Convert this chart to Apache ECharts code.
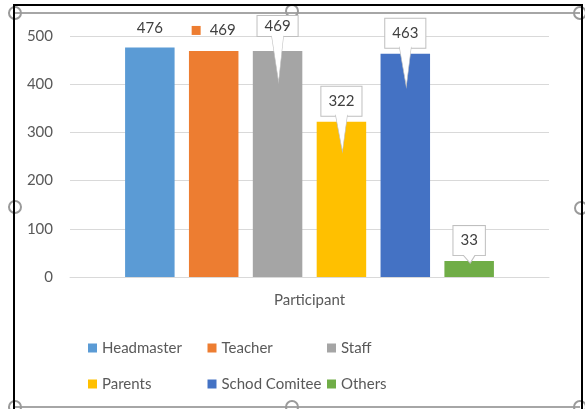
<!DOCTYPE html>
<html>
<head>
<meta charset="utf-8">
<script src="https://cdn.jsdelivr.net/npm/echarts@6/dist/echarts.min.js"></script>
<style>
html,body{margin:0;padding:0;background:#fff;}
#chart{width:585px;height:409px;}
</style>
</head>
<body>
<div id="chart"></div>
<script>
// ---- data ----
const categories = ['Participant'];
const seriesNames = ['Headmaster', 'Teacher', 'Staff', 'Parents', 'Schod Comitee', 'Others'];
const values = [476, 469, 469, 322, 463, 33];
const yTicks = [0, 100, 200, 300, 400, 500];

// ---- styles ----
const palette = ['#5B9BD5', '#ED7D31', '#A5A5A5', '#FFC000', '#4472C4', '#70AD47'];
const FONT = 'Lato';
const textGray = '#595959';
const valGray = '#404040';

// label style per series: 'plain', 'key', 'callout'
const labelKinds = ['plain', 'key', 'callout', 'callout', 'callout', 'callout'];
const labelDist = [12, 13, 15, 6, 6, 6];
const calloutPad = [null, null, [3, 7, 2, 7], [7, 7, 7, 7], [7, 7, 7, 7], [7, 7, 7, 7]];
// pointer wedge geometry: [height, vertical offset of centre rel. to bar top]
const wedgeGeom = [null, null, [46, 8], [37, 11.5], [40, 13], [8, -2]];

function makeLabel(i) {
  const base = {
    show: true, position: 'top', distance: labelDist[i],
    fontFamily: FONT, fontSize: 15, color: valGray, formatter: '{c}'
  };
  if (labelKinds[i] === 'key') {
    base.formatter = '{k|}{v|{c}}';
    base.rich = {
      k: { width: 9, height: 9, backgroundColor: palette[i] },
      v: { fontFamily: FONT, fontSize: 15, color: valGray, padding: [0, 0, 0, 9] }
    };
  } else if (labelKinds[i] === 'callout') {
    base.backgroundColor = '#fff';
    base.borderColor = '#bfbfbf';
    base.borderWidth = 1;
    base.padding = calloutPad[i];
  }
  return base;
}

const series = seriesNames.map((name, i) => {
  const s = {
    name: name,
    type: 'bar',
    data: [values[i]],
    itemStyle: { color: palette[i] },
    barGap: '29%',
    barCategoryGap: '23%',
    label: makeLabel(i)
  };
  if (wedgeGeom[i]) {
    s.markPoint = {
      silent: true,
      symbol: 'path://M0,0 L7,45 L12,0',
      symbolKeepAspect: false,
      symbolSize: [12, wedgeGeom[i][0]],
      symbolOffset: [0, wedgeGeom[i][1]],
      itemStyle: { color: '#ffffff', borderColor: '#bfbfbf', borderWidth: 1 },
      label: { show: false },
      data: [{ coord: [categories[0], values[i]] }]
    };
  }
  return s;
});

const legendText = {
  fontFamily: FONT, fontSize: 15, color: textGray, width: 103, lineHeight: 16
};

const handleStyle = { stroke: '#9a9a9a', lineWidth: 2, fill: null };
const handles = [[15, 13], [292, 11], [580, 13], [15, 207], [581, 208], [15, 407], [292, 407], [580, 407]];

const option = {
  animation: false,
  backgroundColor: '#fff',
  grid: { left: 70, right: 36, top: 36, bottom: 132, containLabel: false },
  xAxis: {
    type: 'category',
    data: categories,
    axisLine: { show: true, lineStyle: { color: '#d9d9d9', width: 1 } },
    axisTick: { show: false },
    axisLabel: { show: true, margin: 16, fontFamily: FONT, fontSize: 15, color: textGray }
  },
  yAxis: {
    type: 'value',
    min: yTicks[0],
    max: yTicks[yTicks.length - 1],
    interval: yTicks[1] - yTicks[0],
    axisLine: { show: false },
    axisTick: { show: false },
    axisLabel: { margin: 17, fontFamily: FONT, fontSize: 15, color: textGray },
    splitLine: { lineStyle: { color: '#d9d9d9', width: 1 } }
  },
  legend: [
    {
      data: seriesNames.slice(0, 3),
      left: 83, top: 335, orient: 'horizontal',
      itemWidth: 9, itemHeight: 9, itemGap: 2.5,
      icon: 'rect', textStyle: legendText, selectedMode: false
    },
    {
      data: seriesNames.slice(3, 6),
      left: 83, top: 371, orient: 'horizontal',
      itemWidth: 9, itemHeight: 9, itemGap: 2.5,
      icon: 'rect', textStyle: legendText, selectedMode: false
    }
  ],
  graphic: [
    { type: 'line', silent: true, shape: { x1: 14, y1: 13, x2: 580, y2: 13 }, style: { stroke: '#a6a6a6', lineWidth: 2 } },
    { type: 'line', silent: true, shape: { x1: 14, y1: 407, x2: 580, y2: 407 }, style: { stroke: '#a6a6a6', lineWidth: 2 } }
  ].concat(handles.map(h => ({
    type: 'circle', silent: true, shape: { cx: h[0], cy: h[1], r: 6 }, style: handleStyle
  }))).concat([
    { type: 'rect', silent: true, shape: { x: 14, y: 5, width: 568, height: 410 }, style: { stroke: '#000', lineWidth: 2, fill: null } }
  ]),
  series: series
};

const chart = echarts.init(document.getElementById('chart'), null, { renderer: 'canvas' });
chart.setOption(option);
</script>
</body>
</html>
